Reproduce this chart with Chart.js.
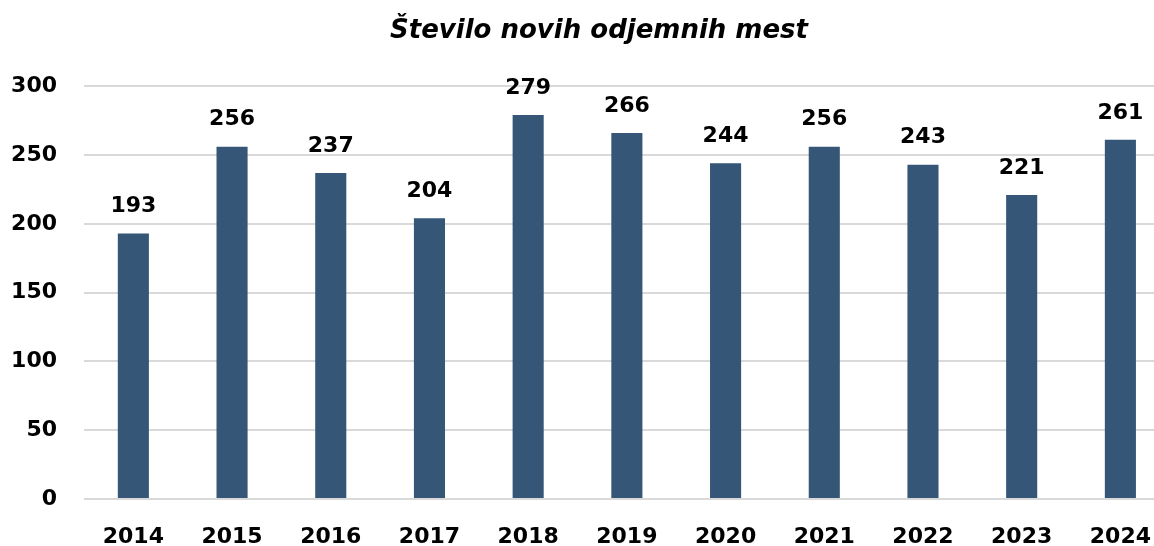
<!DOCTYPE html>
<html>
<head>
<meta charset="utf-8">
<script src="https://cdn.jsdelivr.net/npm/chart.js@4"></script>
<style>
  html, body { margin: 0; padding: 0; overflow: hidden; background: #fff; }
  #wrap { width: 1176px; height: 546px; }
</style>
</head>
<body>
<div id="wrap"><canvas id="dataChart"></canvas></div>
<script>
// podatki z grafa
var years = ["2014", "2015", "2016", "2017", "2018", "2019", "2020", "2021", "2022", "2023", "2024"];
var newPlaces = [193, 256, 237, 204, 279, 266, 244, 256, 243, 221, 261];
var yTicks = [0, 50, 100, 150, 200, 250, 300];

var fontFamily = "'DejaVu Sans', sans-serif";

// oznake vrednosti nad stolpci
var valueLabels = {
	id: 'valueLabels',
	afterLayout: function (chart) {
		// naslov malo v desno, kot na originalu
		chart.titleBlock.left += 11;
		chart.titleBlock.right += 11;
	},
	afterDatasetsDraw: function (chart) {
		var ctx = chart.ctx;
		var meta = chart.getDatasetMeta(0);
		ctx.save();
		ctx.font = "bold 22px " + fontFamily;
		ctx.fillStyle = "#000";
		ctx.textAlign = "center";
		ctx.textBaseline = "middle";
		meta.data.forEach(function (bar, i) {
			ctx.fillText(String(newPlaces[i]), bar.x, bar.y - 27);
		});
		ctx.restore();
	}
};

var ctx = document.getElementById("dataChart");

var chart = new Chart(ctx, {
	type: 'bar',
	data: {
		labels: years,
		datasets: [{
			label: "Število novih odjemnih mest",
			data: newPlaces,
			backgroundColor: "#355677",
			borderWidth: 0,
			barPercentage: 1,
			categoryPercentage: 0.315
		}]
	},
	options: {
		responsive: true,
		maintainAspectRatio: false,
		animation: false,
		layout: { padding: 0 },
		plugins: {
			legend: { display: false },
			tooltip: { enabled: false },
			title: {
				display: true,
				text: "Število novih odjemnih mest",
				color: "#000",
				font: { family: fontFamily, size: 26, weight: 'bold', style: 'italic' },
				padding: { top: 16, bottom: 39 }
			}
		},
		scales: {
			x: {
				grid: { display: false, drawTicks: false },
				border: { display: false },
				afterFit: function (axis) { axis.height = 47; },
				ticks: {
					color: "#000",
					font: { family: fontFamily, size: 22, weight: 'bold' },
					padding: 25
				}
			},
			y: {
				min: 0,
				max: 300,
				afterBuildTicks: function (axis) {
					axis.ticks = yTicks.map(function (v) { return { value: v }; });
				},
				afterFit: function (axis) { axis.width = 84; },
				grid: { color: "#d9d9d9", lineWidth: 2, drawTicks: false },
				border: { display: false },
				ticks: {
					color: "#000",
					font: { family: fontFamily, size: 22, weight: 'bold' },
					padding: 27
				}
			}
		}
	},
	plugins: [valueLabels]
});
</script>
</body>
</html>
